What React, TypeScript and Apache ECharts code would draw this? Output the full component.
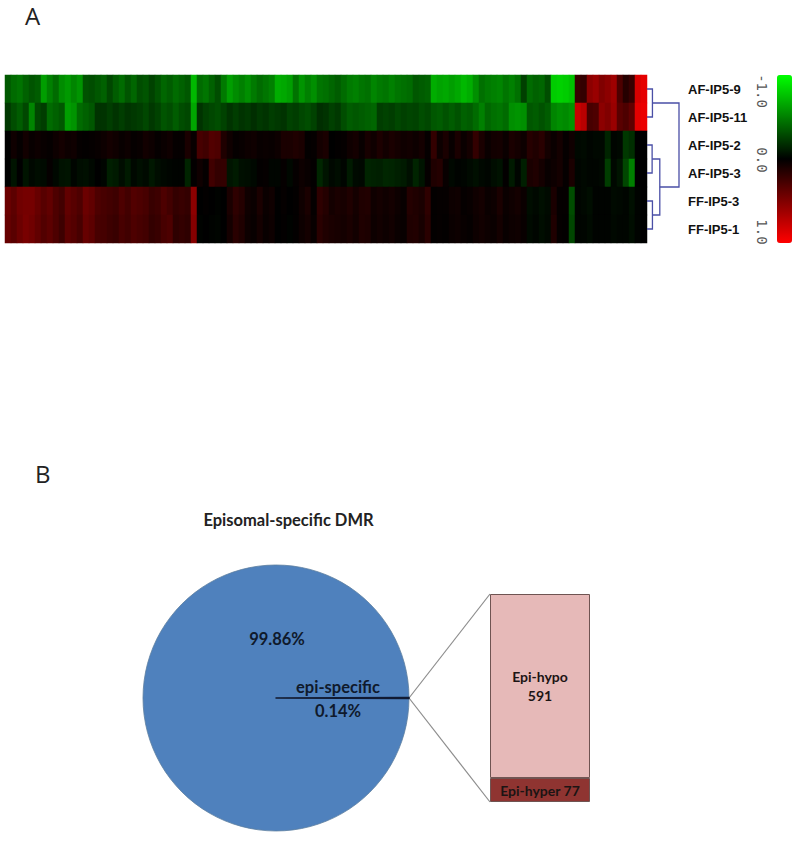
import React, { useEffect, useRef } from "react";
import * as echarts from "echarts";

const sampleNames = ["AF-IP5-9", "AF-IP5-11", "AF-IP5-2", "AF-IP5-3", "FF-IP5-3", "FF-IP5-1"];

const rowAF9 = [
  -.35,-.42,-.45,-.38,-.33,-.36,-.62,-.5,-.42,-.55,-.6,-.52,-.58,-.32,-.3,-.34,-.38,-.28,-.36,-.42,-.33,-.4,-.3,-.33,-.26,-.32,-.4,-.36,-.42,-.38,-.34,-.72,-.42,-.46,-.38,-.3,-.48,-.62,-.55,-.5,-.56,-.48,-.42,-.46,-.5,-.68,-.66,-.62,-.45,-.58,-.5,-.56,-.46,-.44,
  -.4,-.36,-.42,-.48,-.5,-.46,-.44,-.52,-.48,-.46,-.5,-.46,-.44,-.42,-.34,-.36,-.38,-.68,-.64,-.66,-.62,-.66,-.72,-.68,-.56,-.44,-.48,-.5,-.52,-.46,-.5,-.44,-.25,-.42,-.38,-.4,-.3,-.8,-.82,-.8,-.76,.22,.2,.55,.6,.5,.55,.62,.3,.15,.22,.85,.9,
];
const rowAF11 = [
  -.22,-.3,-.36,-.28,-.52,-.28,-.24,-.42,-.38,-.34,-.62,-.58,-.42,-.38,-.34,-.2,-.2,-.24,-.2,-.24,-.2,-.22,-.24,-.28,-.22,-.26,-.33,-.3,-.36,-.3,-.28,-.65,-.2,-.25,-.28,-.3,-.26,-.2,-.24,-.2,-.22,-.18,-.22,-.2,-.24,-.22,-.2,-.26,-.24,-.28,-.3,-.26,-.18,-.2,
  -.25,-.22,-.3,-.36,-.34,-.36,-.38,-.4,-.24,-.26,-.24,-.28,-.25,-.27,-.26,-.3,-.28,-.34,-.36,-.32,-.36,-.32,-.38,-.36,-.42,-.5,-.4,-.44,-.46,-.42,-.56,-.58,-.56,-.34,-.36,-.32,-.36,-.52,-.56,-.54,-.58,.78,.72,.28,.3,.55,.5,.6,.35,.3,.38,.9,.92,
];
const rowAF2 = [
  0,.06,.02,.07,.03,.05,.03,.02,.05,.08,.05,.06,.02,.01,.02,.03,.05,.08,.06,.03,.05,.02,.03,.07,.05,.02,.04,.06,.02,.02,.1,.03,.28,.25,.32,.3,.12,.06,.02,.03,.05,.06,.03,.04,.03,.05,.1,.1,.12,.1,.01,.02,.08,.1,
  0,.01,.02,.06,.08,.03,.09,.06,.11,.07,.1,.08,.06,.07,.05,.08,.02,.2,.05,.1,.03,.1,.04,.08,.2,.1,.04,.07,.08,.04,.1,.08,.05,.15,.12,.16,.08,.04,.08,.02,.06,-.03,-.04,-.02,-.03,-.03,-.14,-.02,-.03,-.22,-.18,0,0,
];
const rowAF3 = [
  0,-.08,0,-.08,-.03,-.05,-.04,.02,-.03,-.07,-.08,-.02,-.05,-.06,-.03,0,-.02,-.12,-.1,-.05,-.1,-.03,-.06,-.04,-.09,-.05,-.03,-.02,-.01,-.01,-.14,.01,.06,.02,.25,.2,.2,-.08,-.1,-.06,-.05,-.03,.01,.02,-.02,-.02,.02,-.03,.02,.05,.03,.01,-.15,-.08,
  -.03,-.05,-.02,-.1,-.04,-.03,-.14,-.13,-.12,-.15,-.14,-.12,-.1,-.06,-.14,-.08,.02,.12,.14,.03,-.03,-.01,-.02,-.04,-.06,-.03,-.02,-.05,-.07,.01,-.1,-.02,-.12,.1,.12,.08,.03,.05,.08,.02,.1,-.02,-.03,-.02,-.02,-.03,-.24,-.03,-.08,-.28,-.5,0,0,
];
const rowFF3 = [
  .42,.36,.44,.46,.46,.4,.34,.38,.3,.26,.38,.34,.3,.42,.38,.3,.28,.26,.24,.3,.26,.32,.3,.28,.22,.24,.3,.26,.2,.22,.2,.55,0,.01,0,-.01,0,.1,.18,.14,.06,.04,.1,.04,.06,0,.02,0,.01,.06,.1,.02,.18,.14,
  .08,.1,.09,.12,.08,.12,.13,.06,.08,.06,.08,.05,.03,.14,.12,.1,.18,.01,.02,.02,.05,.06,.02,.03,.06,.08,.04,.05,.1,.04,.06,.08,.04,-.05,-.03,-.06,-.04,.1,.02,.02,-.3,-.02,-.03,-.05,-.01,-.01,-.01,-.04,-.03,-.02,-.06,-.01,0,
];
const rowFF1 = [
  .4,.35,.42,.47,.44,.38,.32,.36,.3,.24,.36,.33,.28,.4,.36,.28,.27,.24,.22,.28,.25,.3,.28,.26,.2,.22,.28,.3,.18,.2,.18,.52,-.01,0,-.01,-.02,0,.08,.16,.12,.05,.03,.08,.03,.05,0,.01,-.01,.01,.05,.08,.03,.16,.12,
  .1,.09,.08,.1,.07,.12,.11,.05,.07,.05,.07,.04,.03,.12,.13,.09,.16,.01,.02,.01,.04,.05,.03,.02,.05,.07,.05,.04,.08,.03,.05,.06,.03,-.04,-.02,-.05,-.03,.12,.02,.01,-.28,-.02,-.02,-.04,-.01,-.01,-.01,-.03,-.02,-.02,-.05,-.01,0,
];
const heatRows = [rowAF9, rowAF11, rowAF2, rowAF3, rowFF3, rowFF1];
const columnIds = rowAF9.map((_, i) => String(i));

// [fromRow, fromHeight, toRow, toHeight, mergeHeight] on the row axis (row centres at .5, 1.5, ...)
const dendroMerges = [
  [0.5, 0, 1.5, 0, 0.17],
  [2.5, 0, 3.5, 0, 0.16],
  [4.5, 0, 5.5, 0, 0.17],
  [3.0, 0.16, 5.0, 0.17, 0.4],
  [1.0, 0.17, 4.0, 0.4, 1.0],
];

const scaleTicks = ["-1.0", "0.0", "1.0"];
const pieNames = ["other", "epi-specific"];
const pieValues = [99.86, 0.14];
const barNames = ["Epi-hyper", "Epi-hypo"];
const barValues = [77, 591];

const heat = { left: 5, top: 75, width: 642, height: 168 };
const pieCentre = [276, 698];
const stack = { left: 490, top: 594, width: 100, height: 208 };

export default function App() {
  const ref = useRef<HTMLDivElement>(null);
  useEffect(() => {
    const chart = echarts.init(ref.current!, null, { renderer: "svg" });
    const heatData: number[][] = [];
    heatRows.forEach((r, y) => r.forEach((v, x) => heatData.push([x, y, v])));
    const total = barValues[0] + barValues[1];
    const option: any = {
      animation: false,
      backgroundColor: "#fff",
      title: {
        text: "Episomal-specific DMR",
        left: 283.5,
        top: 506,
        textAlign: "center",
        textStyle: { fontFamily: "Lato", fontSize: 16.5, fontWeight: "bold", color: "#222" },
      },
      grid: [
        { ...heat },
        { left: 647, top: heat.top, width: 32, height: heat.height },
        { ...stack },
      ],
      xAxis: [
        { type: "category", gridIndex: 0, data: columnIds, show: false },
        { type: "value", gridIndex: 1, min: 0, max: 1, show: false },
        { type: "category", gridIndex: 2, data: ["DMR"], show: false },
      ],
      yAxis: [
        {
          type: "category",
          gridIndex: 0,
          data: sampleNames,
          inverse: true,
          position: "right",
          axisLine: { show: false },
          axisTick: { show: false },
          axisLabel: {
            margin: 41,
            fontFamily: "Liberation Sans",
            fontWeight: "bold",
            fontSize: 13,
            color: "#111",
          },
        },
        { type: "value", gridIndex: 1, min: 0, max: 6, inverse: true, show: false },
        { type: "value", gridIndex: 2, min: 0, max: total, show: false },
      ],
      visualMap: {
        type: "continuous",
        seriesIndex: 0,
        min: -1,
        max: 1,
        inverse: true,
        left: 777,
        top: heat.top,
        itemWidth: 15,
        itemHeight: heat.height,
        padding: 0,
        text: null,
        showLabel: false,
        calculable: false,
        inRange: { color: ["#00ff00", "#000000", "#ff0000"] },
      },
      series: [
        {
          type: "heatmap",
          xAxisIndex: 0,
          yAxisIndex: 0,
          data: heatData,
          progressive: 0,
          itemStyle: { borderWidth: 0 },
          emphasis: { disabled: true },
        },
        {
          type: "custom",
          xAxisIndex: 1,
          yAxisIndex: 1,
          silent: true,
          data: dendroMerges,
          encode: { x: [1, 3, 4], y: [0, 2] },
          renderItem: (_: any, api: any) => {
            const a = api.coord([api.value(1), api.value(0)]);
            const b = api.coord([api.value(3), api.value(2)]);
            const mx = api.coord([api.value(4), 0])[0];
            return {
              type: "polyline",
              shape: { points: [a, [mx, a[1]], [mx, b[1]], b] },
              style: { fill: "none", stroke: "#4a4fa6", lineWidth: 1.3 },
            };
          },
        },
        {
          type: "pie",
          center: pieCentre,
          radius: [0, 133],
          startAngle: -0.25,
          clockwise: true,
          avoidLabelOverlap: false,
          silent: true,
          data: pieNames.map((name, i) => ({
            name,
            value: pieValues[i],
            itemStyle:
              i === 1
                ? { color: "#101a33", borderColor: "#101a33", borderWidth: 1.5 }
                : { color: "#4f81bd", borderColor: "#5d7f9f", borderWidth: 0.8 },
          })),
          label: {
            show: true,
            position: "inside",
            fontFamily: "Lato",
            fontSize: 16.5,
            fontWeight: "bold",
            color: "#0f1a2c",
            lineHeight: 24,
            formatter: (p: any) =>
              p.dataIndex === 1 ? `${p.name}\n${p.value}%` : `${p.value}%`,
          },
          labelLine: { show: false },
          labelLayout: (p: any) =>
            p.dataIndex === 1
              ? { x: 338, y: 699, align: "center", verticalAlign: "middle" }
              : { x: 277, y: 639, align: "center", verticalAlign: "middle" },
        },
        ...barNames.map((name, i) => ({
          type: "bar",
          name,
          xAxisIndex: 2,
          yAxisIndex: 2,
          stack: "dmr",
          barWidth: "100%",
          silent: true,
          data: [barValues[i]],
          itemStyle: {
            color: i === 0 ? "#8f3431" : "#e6b9b8",
            borderColor: "#6f5452",
            borderWidth: 1,
          },
          label: {
            show: true,
            position: "inside",
            fontFamily: "Lato",
            fontSize: 14,
            fontWeight: "bold",
            lineHeight: 19,
            color: "#1c1414",
            formatter: i === 0 ? `${name} ${barValues[i]}` : `${name}\n${barValues[i]}`,
          },
        })),
      ],
      graphic: [
        { type: "text", left: 25, top: 3, style: { text: "A", font: "24px 'Open Sans'", fill: "#222" } },
        { type: "text", left: 35, top: 461, style: { text: "B", font: "24px 'Open Sans'", fill: "#222" } },
        ...scaleTicks.map((t, i) => ({
          type: "text",
          x: 762,
          y: [91, 160, 232][i],
          rotation: -Math.PI / 2,
          style: {
            text: t,
            font: "14px 'DejaVu Sans Mono'",
            fill: "#555",
            align: "center",
            verticalAlign: "middle",
          },
        })),
        ...[stack.top, stack.top + stack.height].map((y) => ({
          type: "line",
          shape: { x1: pieCentre[0] + 133, y1: pieCentre[1], x2: stack.left, y2: y },
          style: { stroke: "#8c8c8c", lineWidth: 1.2 },
        })),
      ],
    };
    chart.setOption(option);
    return () => chart.dispose();
  }, []);
  return (
    <div
      ref={ref}
      style={{ position: "absolute", left: 0, top: 0, width: 797, height: 843 }}
    />
  );
}
